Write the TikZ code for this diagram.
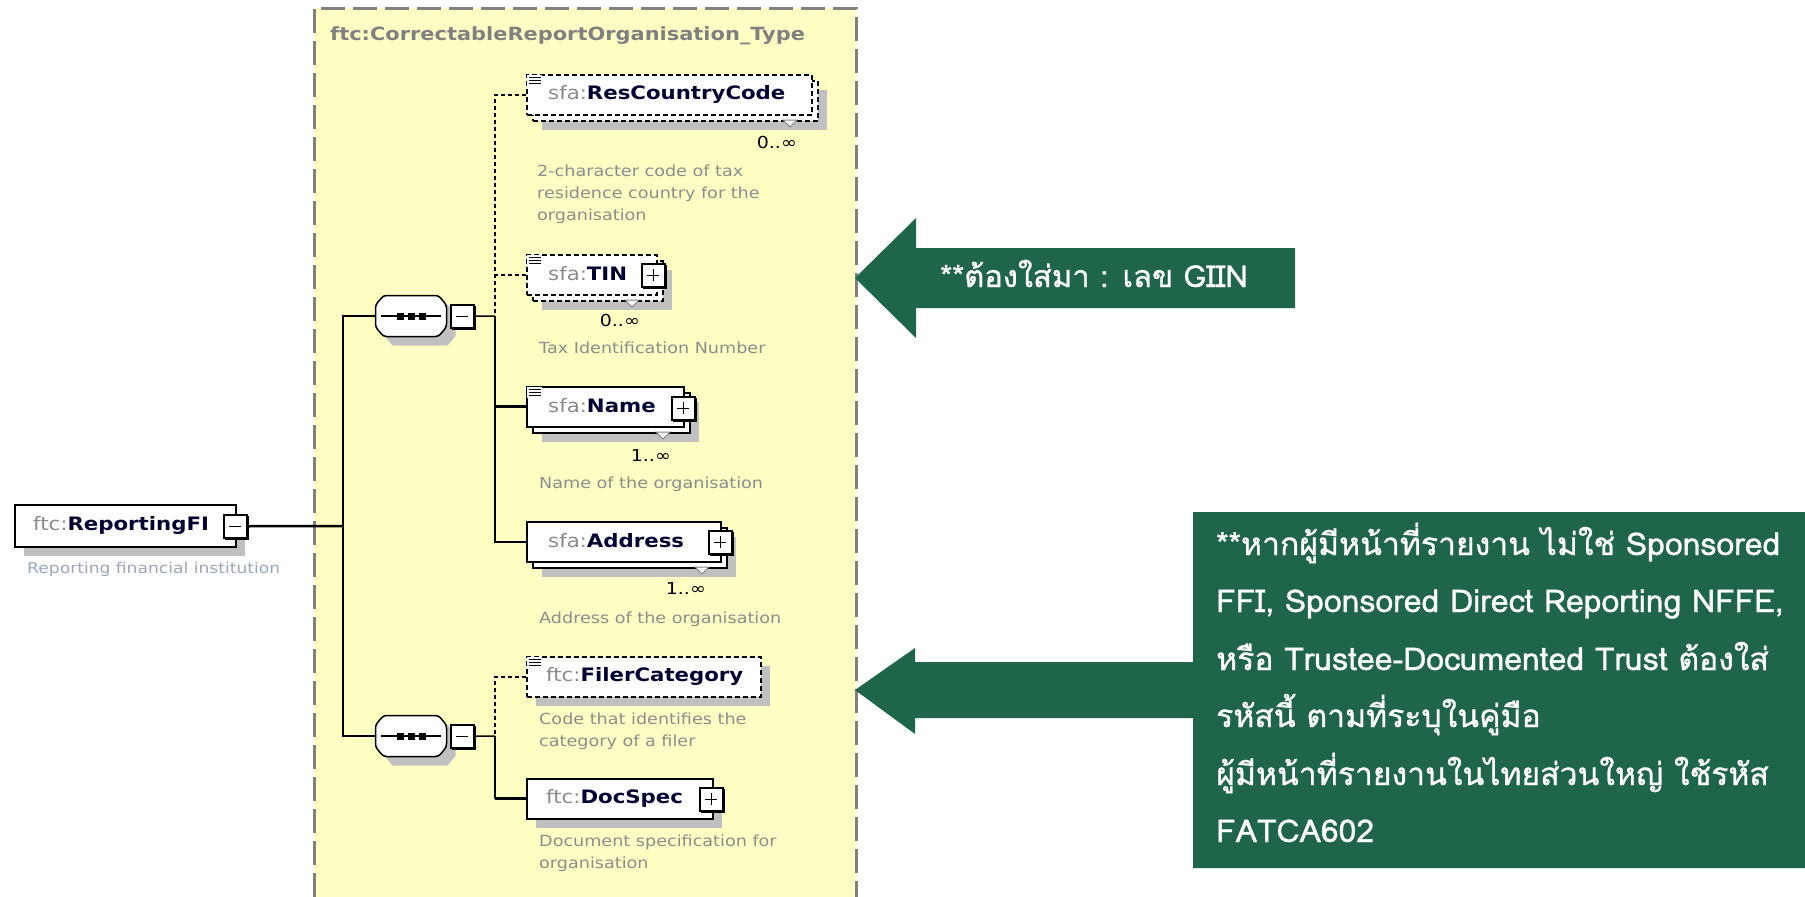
\documentclass[tikz,border=0pt]{standalone}
\usepackage{fontspec}
\setmainfont{DejaVu Sans}
\newfontfamily\thaifont[Script=Thai,FakeBold=1,FakeStretch=1.02]{Loma}
\newfontfamily\dgfont[FakeStretch=1.15]{DejaVu Sans}
\usetikzlibrary{shadows}
\definecolor{ybg}{HTML}{FFFFC4}
\definecolor{bordergray}{HTML}{808080}
\definecolor{shadowgray}{HTML}{C0C0C0}
\definecolor{pregray}{HTML}{8A8A8A}
\definecolor{navy}{HTML}{000030}
\definecolor{descgray}{HTML}{8C8C8C}
\definecolor{rfidesc}{HTML}{9AA7BC}
\definecolor{fgreen}{HTML}{1E654A}
\newcommand\xpre[1]{{\color{pregray}#1}}
\newcommand\xnm[1]{{\bfseries\color{navy}#1}}
\newcommand\btnedge[1]{\draw[line width=3pt] ([yshift=-2pt]#1.north east) -- (#1.south east) -- ([xshift=2pt]#1.south west);}
\newcommand\minussign[1]{\draw[line width=1.5pt] ([xshift=-6pt]#1.center) -- ([xshift=6pt]#1.center);}
\newcommand\plussign[1]{\draw[line width=1.5pt] ([xshift=-6pt]#1.center) -- ([xshift=6pt]#1.center) ([yshift=-6pt]#1.center) -- ([yshift=6pt]#1.center);}
\newcommand\docicon[1]{%
  \fill[white] ([xshift=1pt,yshift=-1pt]#1.north west) rectangle ++(15,11);
  \foreach \k in {3,6,9}{\draw[line width=1pt] ([xshift=3pt,yshift=-\k pt]#1.north west) -- ++(12,0);}}
\newcommand\reptri[2]{\draw[fill=white, draw=gray, line width=1pt] (#1-7,#2) -- (#1+7,#2) -- (#1,#2+7) -- cycle;}
\newcommand\octo[3]{\path[#1] (#2-35.5,#3-11) -- (#2-27.5,#3-20.5) -- (#2+27.5,#3-20.5) -- (#2+35.5,#3-11) -- (#2+35.5,#3+11) -- (#2+27.5,#3+20.5) -- (#2-27.5,#3+20.5) -- (#2-35.5,#3+11) -- cycle;}
\begin{document}
\begin{tikzpicture}[x=1pt,y=-1pt,
  elembox/.style={draw=black, fill=white, line width=1.5pt, anchor=north west, inner sep=0pt, minimum height=40pt},
  optbox/.style={elembox, dash pattern=on 5pt off 3pt},
  shad/.style={drop shadow={shadow xshift=9pt, shadow yshift=-9pt, fill=shadowgray, opacity=1}},
  btn/.style={draw=black, fill=white, line width=1.5pt, anchor=north west, inner sep=0pt, minimum width=23pt, minimum height=23pt},
  seqbox/.style={inner sep=0pt, minimum width=71pt, minimum height=41pt},
  octline/.style={draw=black, fill=white, line width=1.5pt, rounded corners=3pt},
  nametext/.style={anchor=west, inner sep=0pt, font=\dgfont\fontsize{18.5}{22}\selectfont},
  desc/.style={anchor=north west, inner sep=0pt, align=left, text=descgray, font=\dgfont\fontsize{15.3}{22}\selectfont},
  mult/.style={anchor=east, inner sep=0pt, font=\dgfont\fontsize{16.5}{20}\selectfont},
  conn/.style={line width=1.5pt},
  optconn/.style={line width=1.5pt, dash pattern=on 4pt off 3pt},
  thickconn/.style={line width=3pt},
  note/.style={anchor=base west, inner sep=0pt, text=white, font=\thaifont\fontsize{31.3}{36}\selectfont},
]
\useasboundingbox (0,0) rectangle (1805,897);
\fill[white] (0,0) rectangle (1805,897);

% complex type container
\fill[ybg] (314,8) rectangle (856,897);
\draw[bordergray, line width=3pt, dash pattern=on 24pt off 8pt] (314,897) -- (314,8) -- (856,8) -- (856,897);
\node[anchor=west, inner sep=0pt, text=bordergray, font=\dgfont\bfseries\fontsize{18.2}{20}\selectfont] (title) at (330,36) {ftc:CorrectableReportOrganisation\_Type};

% ReportingFI
\node[elembox, shad, minimum width=221pt, minimum height=42pt] (rfi) at (14,504) {};
\node[nametext] (rfit) at (33,525) {\xpre{ftc:}\xnm{ReportingFI}};
\node[btn] (rfim) at (223,514) {}; \btnedge{rfim}\minussign{rfim}
\node[desc, text=rfidesc, font=\dgfont\fontsize{14.9}{22}\selectfont] (rfid) at (27,562) {Reporting financial institution};

% sequence compositors
\octo{fill=shadowgray}{420}{325}
\octo{octline}{411}{316}
\node[seqbox] (seq1) at (411,316) {};
\draw[line width=1.5pt] ([xshift=6pt]seq1.west) -- ([xshift=-6pt]seq1.east);
\foreach \d in {-11,0,11} \fill ([xshift=\d pt]seq1.center) ++(-3.5,-3.5) rectangle ++(7,7);
\node[btn] (seq1m) at (450,304) {}; \btnedge{seq1m}\minussign{seq1m}

\octo{fill=shadowgray}{420}{745}
\octo{octline}{411}{736}
\node[seqbox] (seq2) at (411,736) {};
\draw[line width=1.5pt] ([xshift=6pt]seq2.west) -- ([xshift=-6pt]seq2.east);
\foreach \d in {-11,0,11} \fill ([xshift=\d pt]seq2.center) ++(-3.5,-3.5) rectangle ++(7,7);
\node[btn] (seq2m) at (450,724) {}; \btnedge{seq2m}\minussign{seq2m}

% ResCountryCode
\node[optbox, shad, minimum width=285pt] (rccb) at (532,80) {};
\reptri{790}{120}
\node[optbox, minimum width=285pt] (rcc) at (526,74) {};
\docicon{rcc}
\node[nametext] (rcct) at (548,94) {\xpre{sfa:}\xnm{ResCountryCode}};
\node[mult] (rccm) at (797,142) {0..∞};
\node[desc] (rccd) at (537,165) {2-character code of tax\\residence country for the\\organisation};

% TIN
\node[optbox, shad, minimum width=130pt] (tinb) at (532,260) {};
\reptri{632}{300}
\node[optbox, minimum width=130pt] (tin) at (526,254) {};
\docicon{tin}
\node[nametext] (tint) at (548,274) {\xpre{sfa:}\xnm{TIN}};
\node[btn] (tinp) at (641,263) {}; \btnedge{tinp}\plussign{tinp}
\node[mult] (tinm) at (640,320) {0..∞};
\node[desc] (tind) at (539,342) {Tax Identification Number};

% Name
\node[elembox, shad, minimum width=157pt] (nameb) at (532,392) {};
\reptri{663}{432}
\node[elembox, minimum width=157pt] (name) at (526,386) {};
\docicon{name}
\node[nametext] (namet) at (548,406) {\xpre{sfa:}\xnm{Name}};
\node[btn] (namep) at (671,396) {}; \btnedge{namep}\plussign{namep}
\node[mult] (namem) at (671,455) {1..∞};
\node[desc] (named) at (539,477) {Name of the organisation};

% Address
\node[elembox, shad, minimum width=194pt] (addrb) at (532,527) {};
\reptri{702}{567}
\node[elembox, minimum width=194pt] (addr) at (526,521) {};
\node[nametext] (addrt) at (548,541) {\xpre{sfa:}\xnm{Address}};
\node[btn] (addrp) at (708,530) {}; \btnedge{addrp}\plussign{addrp}
\node[mult] (addrm) at (706,588) {1..∞};
\node[desc] (addrd) at (539,612) {Address of the organisation};

% FilerCategory
\node[optbox, shad, minimum width=234pt] (fc) at (526,656) {};
\docicon{fc}
\node[nametext] (fct) at (546,676) {\xpre{ftc:}\xnm{FilerCategory}};
\node[desc] (fcd) at (539,713) {Code that identifies the\\category of a filer};

% DocSpec
\node[elembox, shad, minimum width=186pt] (doc) at (526,778) {};
\node[nametext] (doct) at (546,798) {\xpre{ftc:}\xnm{DocSpec}};
\node[btn] (docp) at (699,787) {}; \btnedge{docp}\plussign{docp}
\node[desc] (docd) at (539,835) {Document specification for\\organisation};

% connectors
\coordinate (mv) at (343,526);
\coordinate (j1) at (495,316);
\coordinate (j2) at (495,736);
\draw[line width=2.5pt] (rfim.east) -- (mv);
\draw[line width=2pt] (seq1.west) -| (mv) |- (seq2.west);
\draw[conn] (seq1m.east) -- (j1);
\draw[optconn] (rcc.west) -| (j1);
\draw[optconn] (tin.west) -- (tin.west -| j1);
\draw[conn] (j1) |- (addr.west);
\draw[thickconn] (name.west -| j1) -- (name.west);
\draw[conn] (seq2m.east) -- (j2);
\draw[optconn] (fc.west) -| (j2);
\draw[conn] (j2) -- (j2 |- doc.west);
\draw[thickconn] (j2 |- doc.west) -- (doc.west);

% callouts
\fill[fgreen] (855,278) -- (916,218) -- (916,248) -- (1295,248) -- (1295,308) -- (916,308) -- (916,338) -- cycle;
\node[note, font=\thaifont\fontsize{30.3}{36}\selectfont] (note1) at (940,287) {**ต้องใส่มา : เลข GIIN};

\fill[fgreen] (855,690) -- (915,648) -- (915,662) -- (1193,662) -- (1193,512) -- (1805,512) -- (1805,868) -- (1193,868) -- (1193,718) -- (915,718) -- (915,734) -- cycle;
\node[note] (l1) at (1216,555) {**หากผู้มีหน้าที่รายงาน ไม่ใช่ Sponsored};
\node[note] (l2) at (1216,612) {FFI, Sponsored Direct Reporting NFFE,};
\node[note] (l3) at (1216,670) {หรือ Trustee-Documented Trust ต้องใส่};
\node[note] (l4) at (1216,727) {รหัสนี้ ตามที่ระบุในคู่มือ};
\node[note] (l5) at (1216,785) {ผู้มีหน้าที่รายงานในไทยส่วนใหญ่ ใช้รหัส};
\node[note] (l6) at (1216,842) {FATCA602};
\end{tikzpicture}
\end{document}
